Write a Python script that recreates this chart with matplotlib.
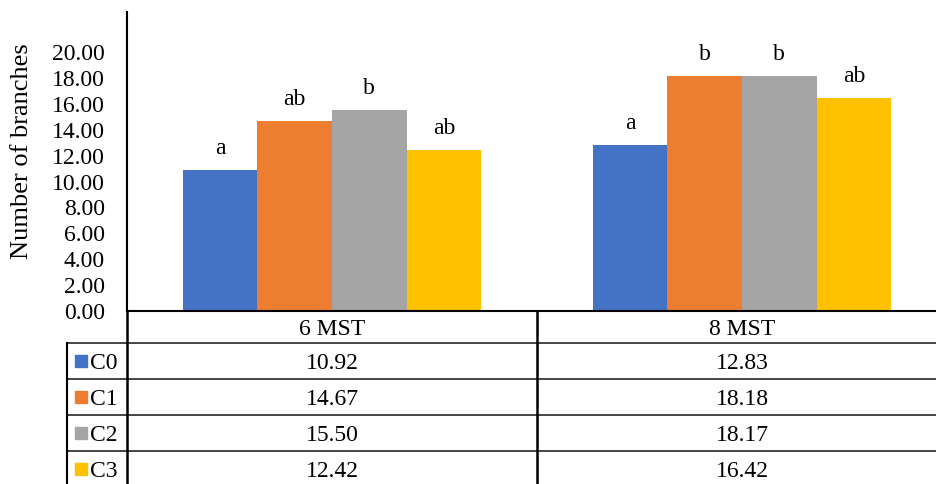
#Grouped bar chart with an Excel style data table underneath
import matplotlib.pyplot as plt
from matplotlib.lines import Line2D
from matplotlib.transforms import blended_transform_factory

stages = ["6 MST", "8 MST"]
treatments = ["C0", "C1", "C2", "C3"]
c0 = [10.92, 12.83]
c1 = [14.67, 18.18]
c2 = [15.50, 18.17]
c3 = [12.42, 16.42]
letters_c0 = ["a", "a"]
letters_c1 = ["ab", "b"]
letters_c2 = ["b", "b"]
letters_c3 = ["ab", "ab"]
colors = ["#4472C4", "#ED7D31", "#A5A5A5", "#FFC000"]

W, H = 936, 484
plt.rcParams['font.family'] = ['Liberation Serif', 'DejaVu Serif']

fig = plt.figure(figsize=(W / 100, H / 100), dpi=100)

def fx(px):
	return px / W

def fy(py):
	return (H - py) / H

# axes: left edge 127 px, x-axis at 311 px, top 12 px, right edge past the figure
ax_left, ax_right, ax_top, ax_bottom = 127, 947, 12, 311
ax = fig.add_axes([fx(ax_left), fy(ax_bottom), (ax_right - ax_left) / W, (ax_bottom - ax_top) / H])

series = [c0, c1, c2, c3]
letters = [letters_c0, letters_c1, letters_c2, letters_c3]
x = list(range(len(stages)))
width = 0.182
for i, vals in enumerate(series):
	offs = [xi + (i - 1.5) * width for xi in x]
	ax.bar(offs, vals, width, color=colors[i], zorder=2)
	for xo, v, lab in zip(offs, vals, letters[i]):
		ax.annotate(lab, (xo, v), xytext=(0, 11.5), textcoords="offset points",
			ha="center", va="baseline", fontsize=17)

ax.set_xlim(-0.5, len(stages) - 0.5)
ax.set_ylim(0, 23.1)
ax.set_yticks(range(0, 21, 2))
ax.set_yticklabels([f"{t:.2f}" for t in range(0, 21, 2)], fontsize=17)
ax.tick_params(axis="y", length=0, pad=16)
ax.set_xticks([])
for s in ["top", "right"]:
	ax.spines[s].set_visible(False)
ax.spines["left"].set_linewidth(1.5)
ax.spines["bottom"].set_linewidth(1.5)
ax.patch.set_alpha(0)

fig.text(fx(22), fy(151), "Number of branches", rotation=90, ha="center", va="center", fontsize=19)

# data table below the axis
row_edges = [311, 343, 379, 415, 451, 487]
key_left = 67
cap_half = 7.8  # half the cap height in px, to centre digits/capitals on the row
blend = blended_transform_factory(ax.transData, fig.transFigure)

def hline(py, x0, lw=1.2, color="#262626"):
	fig.add_artist(Line2D([fx(x0), 1.0], [fy(py), fy(py)], lw=lw, color=color))

def vline(px, y0, y1, lw=1.8):
	fig.add_artist(Line2D([fx(px), fx(px)], [fy(y0), fy(y1)], lw=lw, color="black"))

for py in row_edges[1:-1]:
	hline(py, key_left)
vline(ax_left, ax_bottom, H + 5)
vline(key_left, row_edges[1], H + 5, lw=1.5)
# column dividers between stages
for k in range(1, len(stages)):
	fig.add_artist(Line2D([k - 0.5, k - 0.5], [fy(ax_bottom), fy(H + 5)], lw=1.8,
		color="black", transform=blend))

for k, st in enumerate(stages):
	yb = fy((row_edges[0] + row_edges[1]) / 2 + cap_half)
	fig.text(k, yb, st, transform=blend, ha="center", va="baseline", fontsize=17)

for i, (name, vals) in enumerate(zip(treatments, series)):
	ymid = (row_edges[i + 1] + row_edges[i + 2]) / 2
	yb = fy(ymid + cap_half)
	fig.add_artist(Line2D([fx(81)], [fy(ymid)], marker="s", markersize=8.6, color=colors[i], lw=0))
	fig.text(fx(90), yb, name, ha="left", va="baseline", fontsize=17)
	for k, v in enumerate(vals):
		fig.text(k, yb, f"{v:.2f}", transform=blend, ha="center", va="baseline", fontsize=17)

fig.savefig("out.png", dpi=100)
